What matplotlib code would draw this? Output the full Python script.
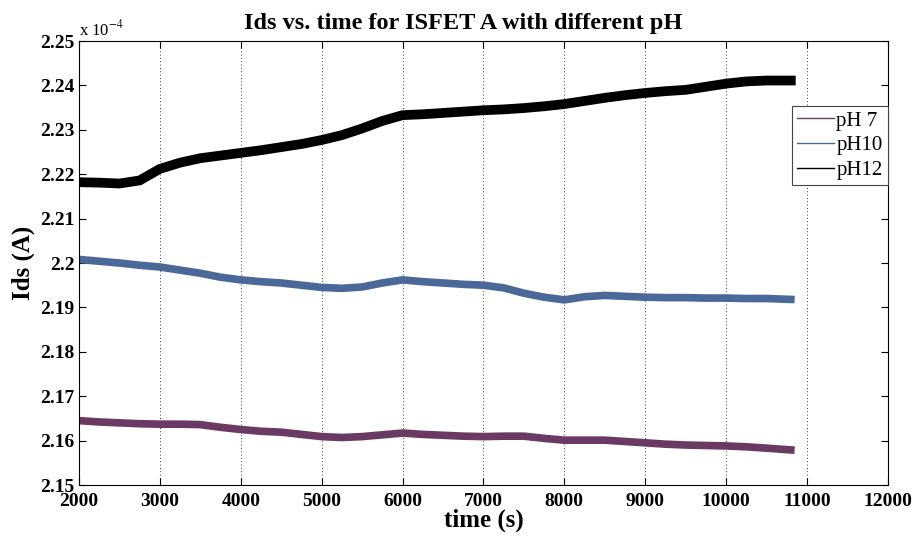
import numpy as np
import matplotlib
matplotlib.use('Agg')
import matplotlib.pyplot as plt
from matplotlib.ticker import FormatStrFormatter

# time in s, Ids in units of 1e-4 A
t = [2000, 2250, 2500, 2750, 3000, 3250, 3500, 3750, 4000, 4250, 4500, 4750,
     5000, 5250, 5500, 5750, 6000, 6250, 6500, 6750, 7000, 7250, 7500, 7750,
     8000, 8250, 8500, 8750, 9000, 9250, 9500, 9750, 10000, 10250, 10500, 10800]

ids_ph7 = [2.1645, 2.1642, 2.1640, 2.1638, 2.1637, 2.1637, 2.1636, 2.1630, 2.1625,
           2.1621, 2.1619, 2.1614, 2.1609, 2.1607, 2.1609, 2.1613, 2.1617, 2.1614,
           2.1612, 2.1610, 2.1609, 2.1610, 2.1610, 2.1605, 2.1601, 2.1601, 2.1601,
           2.1598, 2.1595, 2.1592, 2.1590, 2.1589, 2.1588, 2.1586, 2.1583, 2.1579]

ids_ph10 = [2.2008, 2.2004, 2.2000, 2.1995, 2.1991, 2.1984, 2.1977, 2.1968, 2.1962,
            2.1958, 2.1955, 2.1950, 2.1945, 2.1943, 2.1946, 2.1955, 2.1962, 2.1958,
            2.1955, 2.1952, 2.1950, 2.1944, 2.1932, 2.1923, 2.1917, 2.1924, 2.1927,
            2.1925, 2.1923, 2.1922, 2.1922, 2.1921, 2.1921, 2.1920, 2.1920, 2.1918]

ids_ph12 = [2.2182, 2.2181, 2.2179, 2.2186, 2.2212, 2.2226, 2.2236, 2.2242, 2.2248,
            2.2254, 2.2261, 2.2268, 2.2277, 2.2288, 2.2303, 2.2320, 2.2333, 2.2335,
            2.2338, 2.2341, 2.2344, 2.2346, 2.2349, 2.2353, 2.2358, 2.2365, 2.2372,
            2.2378, 2.2383, 2.2387, 2.2390, 2.2397, 2.2404, 2.2409, 2.2411, 2.2411]

labels = ['pH 7', 'pH10', 'pH12']
colors = ['#6b3a62', '#4a6898', '#000000']

plt.rcParams['font.family'] = ['Liberation Serif', 'DejaVu Serif']
plt.rcParams['mathtext.fontset'] = 'stix'

fig = plt.figure(figsize=(9.13, 5.41), dpi=100)
ax = fig.add_axes([0.0865, 0.1035, 0.886, 0.8207])

widths = [5.5, 5.5, 7.0]
for y, lab, c, w in zip([ids_ph7, ids_ph10, ids_ph12], labels, colors, widths):
    ax.plot(t, y, color=c, lw=w, label=lab, solid_joinstyle='miter')

ax.set_xlim(2000, 12000)
ax.set_ylim(2.15, 2.25)
ax.set_xticks(np.arange(2000, 12001, 1000))
ax.set_yticks(np.arange(2.15, 2.2501, 0.01))
ax.yaxis.set_major_formatter(FormatStrFormatter('%g'))
ax.tick_params(direction='in', top=True, right=True, length=5, width=0.8,
               labelsize=14)
ax.tick_params(axis='x', pad=6)
ax.tick_params(axis='y', pad=3)
for lbl in ax.get_xticklabels() + ax.get_yticklabels():
    lbl.set_fontweight('bold')
ax.xaxis.grid(True, linestyle=(0, (1, 3)), color='k', lw=0.6)
for s in ax.spines.values():
    s.set_linewidth(0.8)

ax.set_title('Ids vs. time for ISFET A with different pH', fontsize=17.5,
             fontweight='bold', pad=9, x=0.475)
ax.set_xlabel('time (s)', fontsize=18, fontweight='bold', labelpad=-1)
ax.set_ylabel('Ids (A)', fontsize=18, fontweight='bold', labelpad=4)
ax.text(0.0, 1.004, r'x 10$^{-4}$', transform=ax.transAxes, fontsize=12,
        ha='left', va='bottom')

leg = ax.legend(loc='upper right', bbox_to_anchor=(1.0, 0.854), fontsize=15,
                fancybox=False, edgecolor='#444444', framealpha=1,
                borderpad=0.25, labelspacing=0.25, handlelength=1.8,
                handletextpad=0.1, borderaxespad=0)
leg.get_frame().set_linewidth(0.8)
for ln in leg.get_lines():
    ln.set_linewidth(1.0)

fig.savefig('out.png', dpi=100)
